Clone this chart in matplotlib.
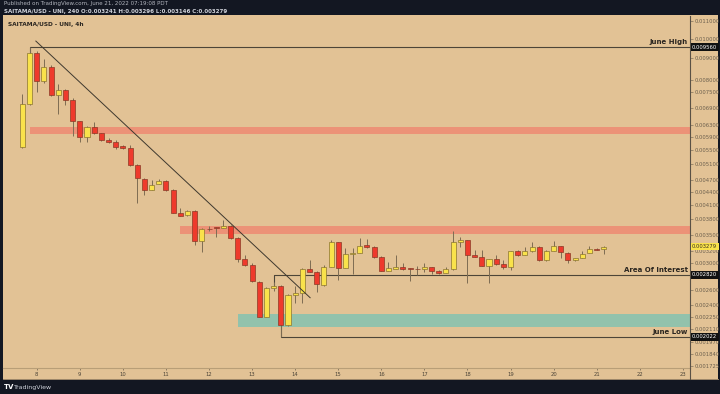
import numpy as np
import pandas as pd
import matplotlib
matplotlib.use("Agg")
import matplotlib.pyplot as plt
import matplotlib.dates as mdates
from matplotlib.patches import Rectangle
from matplotlib.lines import Line2D

# 4h candles, SAITAMA/USD, June 7 16:00 -> June 21 12:00
start = "2022-06-07 16:00"
n_candles = 82

open_ = [0.005585, 0.007037, 0.009256, 0.007963, 0.008586, 0.007386, 0.007587, 0.007190,
         0.006422, 0.005893, 0.006219, 0.006022, 0.005799, 0.005737, 0.005615, 0.005555,
         0.005070, 0.004702, 0.004432, 0.004578, 0.004652, 0.004432, 0.003938, 0.003896,
         0.003980, 0.003388, 0.003614, 0.003633, 0.003633, 0.003672, 0.003443, 0.003075,
         0.002978, 0.002718, 0.002252, 0.002631, 0.002660, 0.002157, 0.002535, 0.002562,
         0.002914, 0.002867, 0.002674, 0.002946, 0.003370, 0.002930, 0.003159, 0.003176,
         0.003315, 0.003280, 0.003109, 0.002883, 0.002914, 0.002946, 0.002930, 0.002910,
         0.002910, 0.002941, 0.002883, 0.002848, 0.002910, 0.003358, 0.003394, 0.003142,
         0.003103, 0.002962, 0.003070, 0.002989, 0.002941, 0.003198, 0.003142, 0.003198,
         0.003271, 0.003047, 0.003209, 0.003286, 0.003171, 0.003047, 0.003087, 0.003171,
         0.003244, 0.003241]
high = [0.007426, 0.009560, 0.009356, 0.008963, 0.008678, 0.007836, 0.007628, 0.007260,
        0.006440, 0.006252, 0.006388, 0.006040, 0.005862, 0.005799, 0.005645, 0.005645,
        0.005100, 0.004728, 0.004677, 0.004702, 0.004677, 0.004456, 0.004024, 0.004002,
        0.004002, 0.003633, 0.003672, 0.003652, 0.003773, 0.003692, 0.003462, 0.003142,
        0.003010, 0.002732, 0.002646, 0.002718, 0.002674, 0.002548, 0.002660, 0.002930,
        0.003058, 0.002883, 0.002978, 0.003406, 0.003370, 0.003262, 0.003262, 0.003443,
        0.003425, 0.003297, 0.003126, 0.003026, 0.003142, 0.003010, 0.002930, 0.002950,
        0.003003, 0.002946, 0.002898, 0.002946, 0.003557, 0.003455, 0.003406, 0.003216,
        0.003216, 0.003070, 0.003142, 0.003058, 0.003209, 0.003227, 0.003280, 0.003361,
        0.003297, 0.003227, 0.003377, 0.003297, 0.003180, 0.003092, 0.003209, 0.003286,
        0.003253, 0.003296]
low = [0.005555, 0.007000, 0.007506, 0.007879, 0.007346, 0.006669, 0.007000, 0.005925,
       0.005737, 0.005737, 0.006000, 0.005768, 0.005706, 0.005525, 0.005525, 0.005060,
       0.004133, 0.004316, 0.004432, 0.004578, 0.004408, 0.003930, 0.003870, 0.003875,
       0.003316, 0.003193, 0.003575, 0.003462, 0.003628, 0.003425, 0.003026, 0.002962,
       0.002718, 0.002250, 0.002250, 0.002589, 0.002022, 0.002145, 0.002428, 0.002428,
       0.002867, 0.002576, 0.002660, 0.002946, 0.002747, 0.002930, 0.002837, 0.003176,
       0.003262, 0.003092, 0.002883, 0.002883, 0.002914, 0.002898, 0.002732, 0.002822,
       0.002857, 0.002832, 0.002837, 0.002845, 0.002898, 0.003274, 0.002698, 0.003103,
       0.002962, 0.002703, 0.002978, 0.002910, 0.002898, 0.003126, 0.003142, 0.003190,
       0.003040, 0.003040, 0.003209, 0.003087, 0.003005, 0.003040, 0.003083, 0.003167,
       0.003218, 0.003146]
close = [0.007037, 0.009256, 0.007963, 0.008586, 0.007386, 0.007587, 0.007190, 0.006422,
         0.005893, 0.006219, 0.006022, 0.005799, 0.005737, 0.005585, 0.005555, 0.005070,
         0.004728, 0.004432, 0.004553, 0.004652, 0.004432, 0.003938, 0.003875, 0.003980,
         0.003388, 0.003614, 0.003608, 0.003630, 0.003672, 0.003443, 0.003075, 0.002978,
         0.002732, 0.002252, 0.002631, 0.002660, 0.002157, 0.002535, 0.002562, 0.002914,
         0.002867, 0.002689, 0.002946, 0.003370, 0.002930, 0.003159, 0.003167, 0.003297,
         0.003280, 0.003109, 0.002883, 0.002930, 0.002946, 0.002914, 0.002906, 0.002908,
         0.002941, 0.002872, 0.002848, 0.002910, 0.003358, 0.003394, 0.003142, 0.003109,
         0.002962, 0.003070, 0.002989, 0.002941, 0.003198, 0.003142, 0.003198, 0.003271,
         0.003047, 0.003209, 0.003286, 0.003188, 0.003047, 0.003087, 0.003159, 0.003240,
         0.003227, 0.003279]

# levels drawn on the chart
june_high = 0.009560
june_low = 0.002022
area_interest = 0.002820
last_price = 0.003279
supply_zone_1 = (0.005990, 0.006220)
supply_zone_2 = (0.003518, 0.003672)
demand_zone = (0.002134, 0.002288)
trend_pts = (["2022-06-07 23:30", "2022-06-14 08:20"], [0.009873, 0.002494])

price_ticks = [0.011, 0.010, 0.009, 0.008, 0.0075, 0.0069, 0.0063, 0.0059, 0.0055, 0.0051,
               0.0047, 0.0044, 0.0041, 0.0038, 0.0035, 0.0032, 0.0030, 0.0026, 0.0024,
               0.00225, 0.00211, 0.00197, 0.00184, 0.001725]
day_ticks = list(range(8, 24))

BG = "#131722"
TAN = "#E2C295"
YEL = "#F9E24B"
RED = "#EE3A2C"
LINE = "#4d4538"

times = pd.date_range(start, periods=n_candles, freq="4h")
x = mdates.date2num(times)
o = np.array(open_); c = np.array(close); h = np.array(high); l = np.array(low)
up = c >= o

fig = plt.figure(figsize=(7.2, 3.94), dpi=100, facecolor=BG)
fig.patches.append(Rectangle((3/720, 15/394), 715/720, 364/394, transform=fig.transFigure,
                             facecolor=TAN, edgecolor="none", zorder=-10))
ax = fig.add_axes([3/720, 26/394, 687/720, 352/394])
ax.set_facecolor(TAN)
ax.set_yscale("log")
ax.set_ylim(0.001711, 0.011293)
ax.set_xlim(mdates.datestr2num("2022-06-07 05:12"), mdates.datestr2num("2022-06-23 04:00"))

def xd(s):
    return mdates.datestr2num(s)

# zones
right = ax.get_xlim()[1]
ax.fill_between([xd("2022-06-07 20:00"), right], *supply_zone_1, color="#EE8A72", alpha=0.85, lw=0, zorder=1)
ax.fill_between([xd("2022-06-11 08:00"), right], *supply_zone_2, color="#EE8A72", alpha=0.85, lw=0, zorder=1)
ax.fill_between([xd("2022-06-12 16:00"), right], *demand_zone, color="#8EC3AE", alpha=0.95, lw=0, zorder=1)

# horizontal levels
ax.plot([xd("2022-06-07 20:00"), xd("2022-06-07 20:00"), right], [0.009256, june_high, june_high], color=LINE, lw=0.8, zorder=2)
ax.plot([xd("2022-06-13 12:00"), xd("2022-06-13 12:00"), right], [0.002660, area_interest, area_interest], color=LINE, lw=0.8, zorder=2)
ax.plot([xd("2022-06-13 16:00"), xd("2022-06-13 16:00"), right], [0.002157, june_low, june_low], color=LINE, lw=0.8, zorder=2)
ax.plot(mdates.datestr2num(trend_pts[0]), trend_pts[1], color="#3e382e", lw=0.7, zorder=4)

# candles
w = 0.7 / 6
ax.vlines(x, l, h, color="#7d6c52", lw=0.7, zorder=3)
bottoms = np.minimum(o, c)
heights = np.maximum(np.abs(c - o), 0.000006)
ax.bar(x[up], heights[up], bottom=bottoms[up], width=w, color=YEL, edgecolor="#8a7430", lw=0.5, zorder=3)
ax.bar(x[~up], heights[~up], bottom=bottoms[~up], width=w, color=RED, edgecolor="#8a3a26", lw=0.5, zorder=3)

# level labels
lab = dict(fontsize=5, fontweight="bold", color="#2b2620", ha="right", va="bottom", zorder=5)
ax.text(0.997, june_high * 1.012, "June High", transform=ax.get_yaxis_transform(), **lab)
ax.text(0.997, area_interest * 1.012, "Area Of Interest", transform=ax.get_yaxis_transform(), **lab)
ax.text(0.997, june_low * 1.012, "June Low", transform=ax.get_yaxis_transform(), **lab)
ax.text(0.007, 0.982, "SAITAMA/USD - UNI, 4h", transform=ax.transAxes, fontsize=4.2,
        fontweight="bold", color="#2b2620", va="top")

# axes styling
for s in ["left", "top"]:
    ax.spines[s].set_visible(False)
ax.spines["right"].set_color("#5a5145")
ax.spines["right"].set_linewidth(0.8)
ax.spines["bottom"].set_color("#b89e77")
ax.yaxis.tick_right()
ax.yaxis.set_minor_locator(matplotlib.ticker.NullLocator())
ax.set_yticks(price_ticks)
ax.set_yticklabels(["%.6f" % v for v in price_ticks])
ax.tick_params(axis="y", labelsize=3.8, colors="#6b5f4d", length=2, width=0.4, pad=1.5)
ax.set_xticks([xd("2022-06-%02d" % d) for d in day_ticks])
ax.set_xticklabels([str(d) for d in day_ticks])
ax.tick_params(axis="x", labelsize=3.8, colors="#4d4538", length=1.5, width=0.4, pad=1.5)

# price labels on the scale
for val, fc, tc in [(june_high, "#111111", "white"), (last_price, "#F9E24B", "#3a3020"),
                    (area_interest, "#111111", "white"), (june_low, "#111111", "white")]:
    ax.text(1.003, val, "%.6f" % val, transform=ax.get_yaxis_transform(), fontsize=3.8,
            color=tc, va="center", ha="left", zorder=6, clip_on=False,
            bbox=dict(boxstyle="square,pad=0.25", fc=fc, ec="none"))

fig.add_artist(Line2D([3/720, 718/720], [15/394, 15/394], color="#b89e77", lw=0.6))
fig.add_artist(Line2D([690/720, 690/720], [15/394, 26/394], color="#5a5145", lw=0.8))

# header and footer
fig.text(4/720, 1 - 4/394, "Published on TradingView.com, June 21, 2022 07:19:08 PDT",
         fontsize=4, color="#b2b5be", va="center")
fig.text(4/720, 1 - 11/394, "SAITAMA/USD - UNI, 240 O:0.003241 H:0.003296 L:0.003146 C:0.003279",
         fontsize=4, color="#d1d4dc", va="center", fontweight="bold")
fig.text(4/720, 7/394, "TV", fontsize=5, color="white", va="center", fontweight="bold")
fig.text(14/720, 7/394, "TradingView", fontsize=4.5, color="#d1d4dc", va="center")

fig.savefig("out.png", dpi=100, facecolor=BG)
